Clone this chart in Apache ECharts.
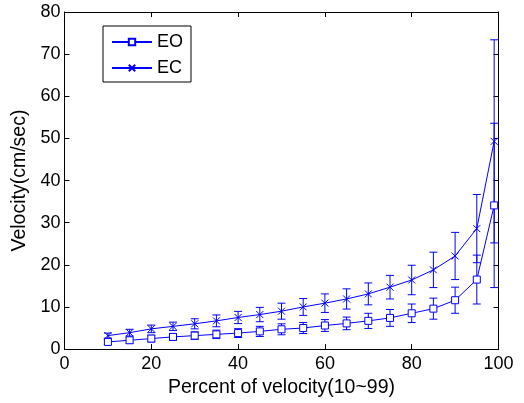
<!DOCTYPE html>
<html>
<head>
<meta charset="utf-8">
<script src="https://cdn.jsdelivr.net/npm/echarts@6/dist/echarts.min.js"></script>
<style>
html,body{margin:0;padding:0;background:#fff;}
#chart{width:524px;height:403px;}
</style>
</head>
<body>
<div id="chart"></div>
<script>
var xValues = [10, 15, 20, 25, 30, 35, 40, 45, 50, 55, 60, 65, 70, 75, 80, 85, 90, 95, 99];
var eoMean = [1.7, 2.1, 2.5, 2.9, 3.2, 3.5, 3.8, 4.2, 4.7, 5.0, 5.6, 6.1, 6.7, 7.4, 8.5, 9.6, 11.6, 16.5, 34.1];
var eoErr  = [0.6, 0.7, 0.8, 0.8, 0.9, 1.0, 1.05, 1.2, 1.3, 1.3, 1.4, 1.5, 1.8, 2.0, 2.2, 2.5, 3.1, 5.8, 19.5];
var ecMean = [3.2, 3.9, 4.8, 5.4, 6.0, 6.7, 7.5, 8.2, 9.0, 10.0, 10.9, 11.9, 13.1, 14.7, 16.4, 18.8, 22.1, 28.6, 49.3];
var ecErr  = [0.6, 0.8, 0.9, 1.0, 1.2, 1.4, 1.45, 1.7, 1.9, 2.0, 2.2, 2.4, 2.6, 2.8, 3.5, 4.2, 5.6, 8.1, 24.1];
var xTicks = [0, 20, 40, 60, 80, 100];
var yTicks = [0, 10, 20, 30, 40, 50, 60, 70, 80];

var BLUE = '#0000ff';
var FONT = 'Liberation Sans';

function pairs(xs, ys) { return xs.map(function (x, i) { return [x, ys[i]]; }); }
function bars(xs, m, e) { return xs.map(function (x, i) { return [x, m[i] - e[i], m[i] + e[i]]; }); }

function errRender(params, api) {
  var x = api.value(0), lo = api.value(1), hi = api.value(2);
  var p1 = api.coord([x, hi]), p2 = api.coord([x, lo]);
  var w = 4;
  var st = { stroke: BLUE, lineWidth: 1 };
  return {
    type: 'group',
    children: [
      { type: 'line', shape: { x1: p1[0], y1: p1[1], x2: p2[0], y2: p2[1] }, style: st },
      { type: 'line', shape: { x1: p1[0] - w, y1: p1[1], x2: p1[0] + w, y2: p1[1] }, style: st },
      { type: 'line', shape: { x1: p2[0] - w, y1: p2[1], x2: p2[0] + w, y2: p2[1] }, style: st }
    ]
  };
}

var axisCommon = {
  axisLine: { show: true, onZero: false, lineStyle: { color: '#000', width: 1 } },
  axisTick: { show: true, inside: true, length: 5, lineStyle: { color: '#000' } },
  splitLine: { show: false }
};

var chart = echarts.init(document.getElementById('chart'), null, { renderer: 'canvas' });
chart.setOption({
  animation: false,
  backgroundColor: '#fff',
  textStyle: { fontFamily: FONT },
  grid: { left: 64.5, right: 25.5, top: 12, bottom: 50.5 },
  legend: {
    orient: 'vertical',
    left: 103, top: 26,
    itemWidth: 40, itemHeight: 8, itemGap: 8,
    padding: [7, 8, 5, 8],
    borderColor: '#000', borderWidth: 1,
    textStyle: { fontSize: 18, color: '#000', fontFamily: FONT },
    data: ['EO', 'EC']
  },
  xAxis: [
    Object.assign({
      type: 'value', min: 0, max: 100, interval: 20, position: 'bottom',
      name: 'Percent of velocity(10~99)', nameLocation: 'middle', nameGap: 26,
      nameTextStyle: { fontSize: 19.5, color: '#000', fontFamily: FONT },
      axisLabel: { fontSize: 18, color: '#000', margin: 6, fontFamily: FONT }
    }, axisCommon),
    Object.assign({
      type: 'value', min: 0, max: 100, interval: 20, position: 'top',
      axisLabel: { show: false }
    }, axisCommon)
  ],
  yAxis: [
    Object.assign({
      type: 'value', min: 0, max: 80, interval: 10, position: 'left',
      name: 'Velocity(cm/sec)', nameLocation: 'middle', nameGap: 33,
      nameTextStyle: { fontSize: 19.5, color: '#000', fontFamily: FONT },
      axisLabel: { fontSize: 18, color: '#000', margin: 4, fontFamily: FONT }
    }, axisCommon),
    Object.assign({
      type: 'value', min: 0, max: 80, interval: 10, position: 'right',
      axisLabel: { show: false }
    }, axisCommon)
  ],
  series: [
    {
      type: 'custom', name: 'EOerr', renderItem: errRender,
      data: bars(xValues, eoMean, eoErr), z: 2, silent: true,
      encode: { x: 0, y: [1, 2] }
    },
    {
      type: 'custom', name: 'ECerr', renderItem: errRender,
      data: bars(xValues, ecMean, ecErr), z: 2, silent: true,
      encode: { x: 0, y: [1, 2] }
    },
    {
      type: 'line', name: 'EO', data: pairs(xValues, eoMean), z: 3,
      symbol: 'rect', symbolSize: 7,
      itemStyle: { color: '#fff', borderColor: BLUE, borderWidth: 1 },
      lineStyle: { color: BLUE, width: 1 }
    },
    {
      type: 'line', name: 'EC', data: pairs(xValues, ecMean), z: 3,
      symbol: 'path://M0,0L10,10M10,0L0,10', symbolSize: 7,
      itemStyle: { color: 'none', borderColor: BLUE, borderWidth: 1 },
      lineStyle: { color: BLUE, width: 1 }
    }
  ]
});
</script>
</body>
</html>
